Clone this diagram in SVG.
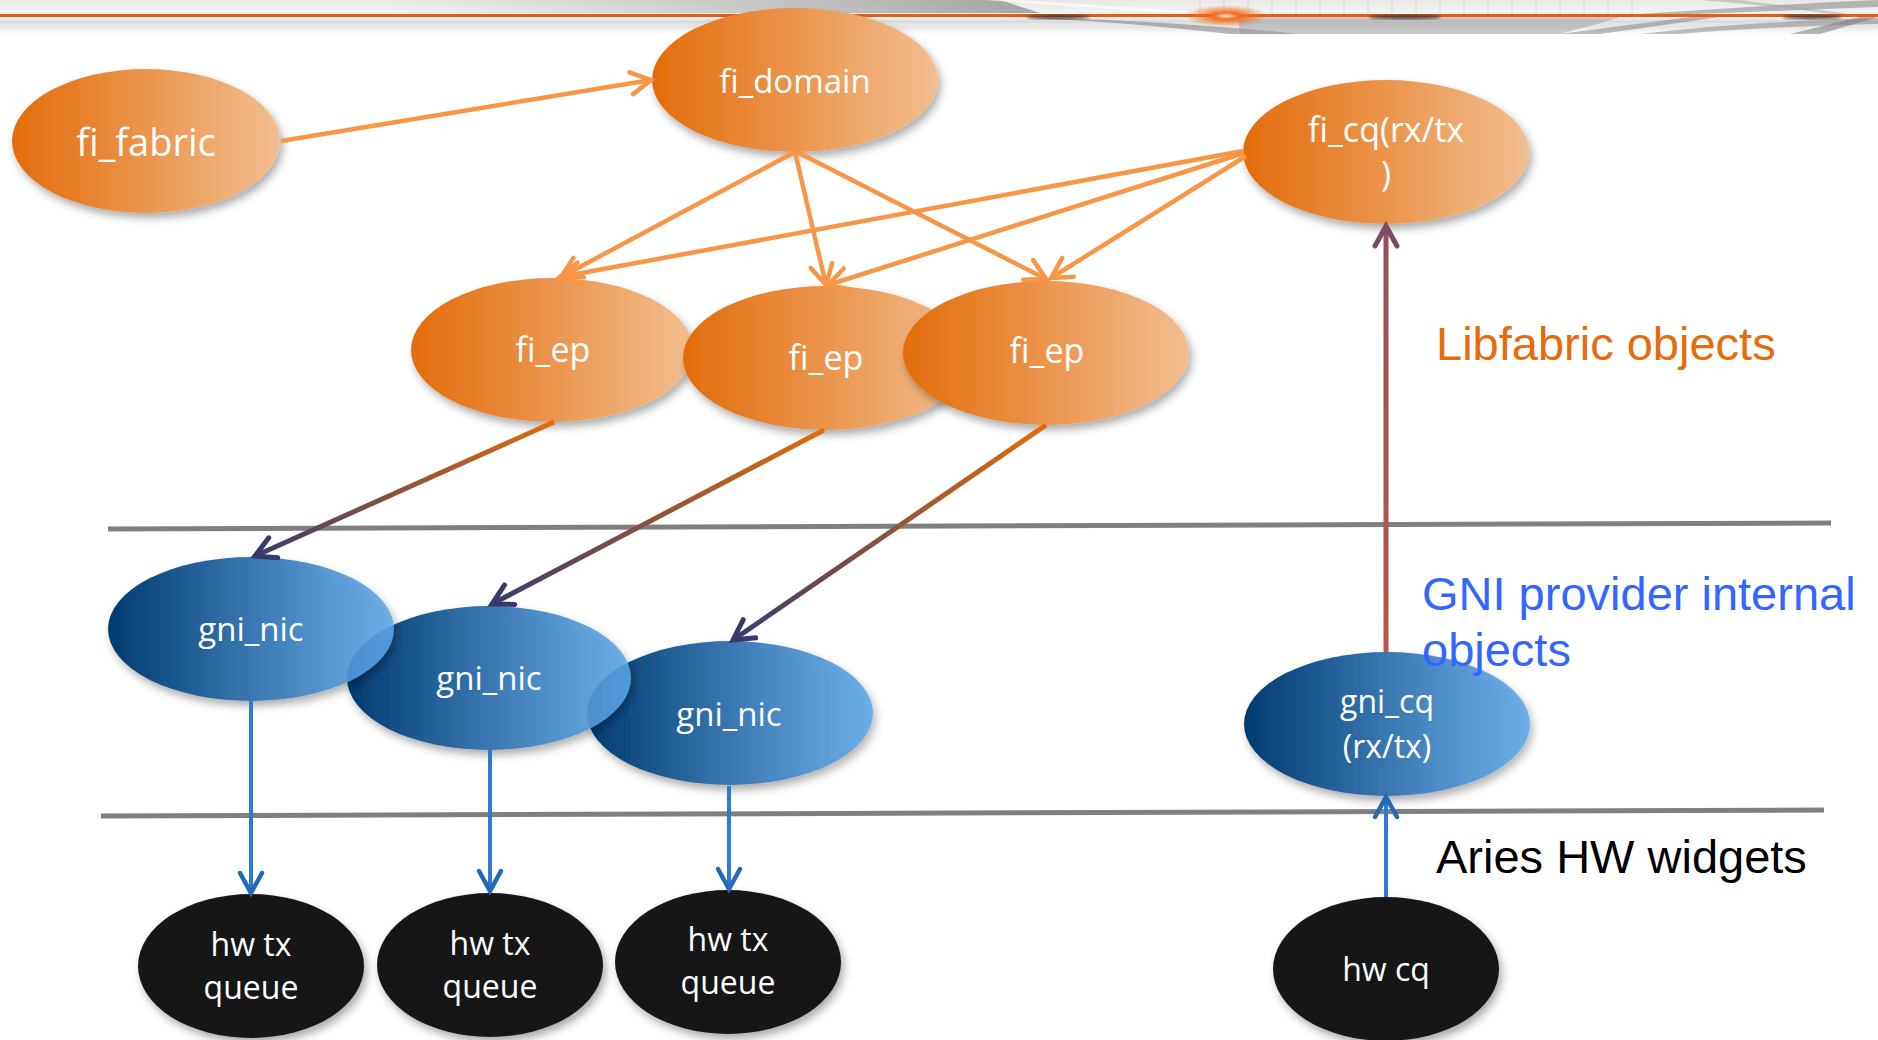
<svg xmlns="http://www.w3.org/2000/svg" width="1878" height="1040" viewBox="0 0 1878 1040">
<style>
.lbl{font-family:"Open Sans","Liberation Sans",sans-serif;fill:#ffffff;text-anchor:middle}
.side{font-family:"Liberation Sans",Arial,sans-serif;font-size:47px}
.or{fill:none;stroke:#F79646;stroke-width:4.5}
.bl{fill:none;stroke:#2B7BCE;stroke-width:4}
.sep{stroke:#7f7f7f;stroke-width:5}
.ov{fill:url(#gOr);filter:url(#sh)}
.bv{fill:url(#gBl);filter:url(#sh)}
.kv{fill:#161616;filter:url(#sh)}
</style>
<defs>
<linearGradient id="gOr" x1="0" y1="0" x2="1" y2="0">
<stop offset="0" stop-color="#E36C0A"/><stop offset="1" stop-color="#F2BE90"/>
</linearGradient>
<linearGradient id="gBl" x1="0" y1="0" x2="1" y2="0">
<stop offset="0" stop-color="#003A6E"/><stop offset="0.5" stop-color="#3A77B2"/><stop offset="1" stop-color="#5CA8EB" stop-opacity="0.85"/>
</linearGradient>
<linearGradient id="hdrV" x1="0" y1="0" x2="0" y2="1">
<stop offset="0" stop-color="#e8e8e8"/><stop offset="0.38" stop-color="#f3f3f3"/><stop offset="0.5" stop-color="#ffffff"/><stop offset="0.6" stop-color="#e0e0e0"/><stop offset="0.85" stop-color="#ececec"/><stop offset="1" stop-color="#ffffff"/>
</linearGradient>
<linearGradient id="swA" x1="0" y1="0" x2="1" y2="0">
<stop offset="0" stop-color="#a8a8a8" stop-opacity="0"/><stop offset="1" stop-color="#909090" stop-opacity="0.8"/>
</linearGradient>
<radialGradient id="glow" cx="0.5" cy="0.5" r="0.5">
<stop offset="0" stop-color="#FFE6CC"/><stop offset="0.3" stop-color="#F26B1D"/><stop offset="1" stop-color="#F26B1D" stop-opacity="0"/>
</radialGradient>
<linearGradient id="gE1" gradientUnits="userSpaceOnUse" x1="554" y1="422" x2="255" y2="556">
<stop offset="0" stop-color="#E36C0A"/><stop offset="1" stop-color="#3A3B6E"/>
</linearGradient>
<linearGradient id="gE2" gradientUnits="userSpaceOnUse" x1="824" y1="430" x2="492" y2="604">
<stop offset="0" stop-color="#E36C0A"/><stop offset="1" stop-color="#3A3B6E"/>
</linearGradient>
<linearGradient id="gE3" gradientUnits="userSpaceOnUse" x1="1046" y1="425" x2="733" y2="640">
<stop offset="0" stop-color="#E36C0A"/><stop offset="1" stop-color="#3A3B6E"/>
</linearGradient>
<linearGradient id="gCq" gradientUnits="userSpaceOnUse" x1="1386" y1="652" x2="1386" y2="226">
<stop offset="0" stop-color="#B9554C"/><stop offset="1" stop-color="#94505C"/>
</linearGradient>
<filter id="sh" x="-20%" y="-20%" width="150%" height="160%">
<feDropShadow dx="3" dy="5" stdDeviation="4" flood-color="#000000" flood-opacity="0.33"/>
</filter>
<filter id="blur2"><feGaussianBlur stdDeviation="1.5"/></filter>
<marker id="aOr" markerUnits="userSpaceOnUse" markerWidth="40" markerHeight="40" viewBox="-30 -20 40 40" refX="0" refY="0" orient="auto" overflow="visible">
<path d="M-20,-11 L0,0 L-20,11" fill="none" stroke="#F79646" stroke-width="4.5" stroke-linecap="round"/>
</marker>
<marker id="aNv" markerUnits="userSpaceOnUse" markerWidth="40" markerHeight="40" viewBox="-30 -20 40 40" refX="0" refY="0" orient="auto" overflow="visible">
<path d="M-20,-11 L0,0 L-20,11" fill="none" stroke="#38396B" stroke-width="5" stroke-linecap="round"/>
</marker>
<marker id="aPu" markerUnits="userSpaceOnUse" markerWidth="40" markerHeight="40" viewBox="-30 -20 40 40" refX="0" refY="0" orient="auto" overflow="visible">
<path d="M-20,-11 L0,0 L-20,11" fill="none" stroke="#7A4A66" stroke-width="5" stroke-linecap="round"/>
</marker>
<marker id="aBl" markerUnits="userSpaceOnUse" markerWidth="40" markerHeight="40" viewBox="-30 -20 40 40" refX="0" refY="0" orient="auto" overflow="visible">
<path d="M-20,-11 L0,0 L-20,11" fill="none" stroke="#2468B8" stroke-width="4.5" stroke-linecap="round"/>
</marker>
</defs>

<rect width="1878" height="1040" fill="#ffffff"/>

<g id="header">
<rect x="0" y="0" width="1878" height="34" fill="url(#hdrV)"/>
<rect x="0" y="21" width="1878" height="2" fill="#dcdcdc"/>
<rect x="0" y="26" width="1878" height="1.5" fill="#e4e4e4"/>
<path d="M380,0 H1000 L1040,13 H380 Z" fill="url(#swA)"/>
<path d="M985,0 H1015 L1235,14 H1185 Z" fill="#ffffff" opacity="0.7"/>
<g stroke="#d4d4d4" stroke-width="1">
<line x1="1200" y1="0" x2="1200" y2="13"/><line x1="1224" y1="0" x2="1224" y2="13"/><line x1="1248" y1="0" x2="1248" y2="13"/><line x1="1272" y1="0" x2="1272" y2="13"/><line x1="1296" y1="0" x2="1296" y2="13"/><line x1="1320" y1="0" x2="1320" y2="13"/><line x1="1344" y1="0" x2="1344" y2="13"/><line x1="1368" y1="0" x2="1368" y2="13"/><line x1="1392" y1="0" x2="1392" y2="13"/><line x1="1416" y1="0" x2="1416" y2="13"/><line x1="1440" y1="0" x2="1440" y2="13"/><line x1="1464" y1="0" x2="1464" y2="13"/><line x1="1488" y1="0" x2="1488" y2="13"/><line x1="1512" y1="0" x2="1512" y2="13"/><line x1="1536" y1="0" x2="1536" y2="13"/><line x1="1560" y1="0" x2="1560" y2="13"/><line x1="1584" y1="0" x2="1584" y2="13"/><line x1="1608" y1="0" x2="1608" y2="13"/><line x1="1632" y1="0" x2="1632" y2="13"/>
</g>
<path d="M1640,14 C1720,9 1800,3 1878,0 L1878,7 C1800,10 1730,13 1690,14 Z" fill="#8c8c8c" opacity="0.6"/>
<path d="M1700,0 C1750,4 1790,8 1830,14 L1850,14 C1800,7 1760,3 1740,0 Z" fill="#a5a5a5" opacity="0.55"/>
<path d="M1000,17 C1080,19 1150,25 1230,34 L1300,34 C1200,24 1100,18 1000,17 Z" fill="#7e7e7e" opacity="0.55"/>
<path d="M1238,17 H1620 C1600,24 1580,28 1560,34 H1240 Z" fill="#9a9a9a" opacity="0.5"/>
<path d="M1560,34 L1690,17 H1720 L1600,34 Z" fill="#7a7a7a" opacity="0.5"/>
<path d="M1640,34 C1720,25 1800,20 1878,18 L1878,24 C1800,26 1720,30 1680,34 Z" fill="#8a8a8a" opacity="0.55"/>
<path d="M1790,34 L1860,17 H1878 L1820,34 Z" fill="#7a7a7a" opacity="0.55"/>
<line x1="0" y1="15.5" x2="1878" y2="15.5" stroke="#EA5B0C" stroke-width="3"/>
<g fill="#2a2a2a" opacity="0.75" filter="url(#blur2)">
<ellipse cx="1058" cy="17" rx="32" ry="2.5"/>
<ellipse cx="1405" cy="17" rx="36" ry="2.5"/>
<ellipse cx="1812" cy="17" rx="30" ry="2.5"/>
</g>
<ellipse cx="1226" cy="16" rx="42" ry="11" fill="url(#glow)"/>
</g>

<g id="separators">
<line class="sep" x1="108" y1="529" x2="1831" y2="523"/>
<line class="sep" x1="101" y1="816" x2="1824" y2="810"/>
</g>

<g id="n-fi_fabric">
<ellipse class="ov" cx="146" cy="141" rx="134" ry="72"/>
<text class="lbl" x="146" y="156" font-size="38">fi_fabric</text>
</g>
<g id="n-fi_domain">
<ellipse class="ov" cx="795" cy="80" rx="143" ry="72"/>
<text class="lbl" x="795" y="93" font-size="33">fi_domain</text>
</g>
<g id="n-fi_cq">
<ellipse class="ov" cx="1386" cy="152" rx="143" ry="72"/>
<text class="lbl" x="1386" y="142" font-size="34">fi_cq(rx/tx</text>
<text class="lbl" x="1386" y="186" font-size="34">)</text>
</g>
<g id="n-fi_ep1">
<ellipse class="ov" cx="552" cy="350" rx="141" ry="72"/>
<text class="lbl" x="553" y="362" font-size="34">fi_ep</text>
</g>
<g id="n-fi_ep2">
<ellipse class="ov" cx="826" cy="358" rx="143" ry="72"/>
<text class="lbl" x="826" y="370" font-size="34">fi_ep</text>
</g>
<g id="n-fi_ep3">
<ellipse class="ov" cx="1046" cy="353" rx="143" ry="72"/>
<text class="lbl" x="1047" y="363" font-size="34">fi_ep</text>
</g>
<g id="n-gni_nic3">
<ellipse class="bv" cx="730" cy="713" rx="143" ry="72"/>
<text class="lbl" x="729" y="726" font-size="33">gni_nic</text>
</g>
<g id="n-gni_nic2">
<ellipse class="bv" cx="489" cy="678" rx="142" ry="72"/>
<text class="lbl" x="489" y="690" font-size="33">gni_nic</text>
</g>
<g id="n-gni_nic1">
<ellipse class="bv" cx="251" cy="629" rx="143" ry="72"/>
<text class="lbl" x="251" y="641" font-size="33">gni_nic</text>
</g>
<g id="n-gni_cq">
<ellipse class="bv" cx="1387" cy="724" rx="143" ry="72"/>
<text class="lbl" x="1387" y="713" font-size="32">gni_cq</text>
<text class="lbl" x="1387" y="758" font-size="32">(rx/tx)</text>
</g>
<g id="n-hw_tx1">
<ellipse class="kv" cx="251" cy="966" rx="113" ry="72"/>
<text class="lbl" x="251" y="956" font-size="32">hw tx</text>
<text class="lbl" x="251" y="999" font-size="32">queue</text>
</g>
<g id="n-hw_tx2">
<ellipse class="kv" cx="490" cy="965" rx="113" ry="72"/>
<text class="lbl" x="490" y="955" font-size="32">hw tx</text>
<text class="lbl" x="490" y="998" font-size="32">queue</text>
</g>
<g id="n-hw_tx3">
<ellipse class="kv" cx="728" cy="962" rx="113" ry="72"/>
<text class="lbl" x="728" y="951" font-size="32">hw tx</text>
<text class="lbl" x="728" y="994" font-size="32">queue</text>
</g>
<g id="n-hw_cq">
<ellipse class="kv" cx="1386" cy="969" rx="113" ry="72"/>
<text class="lbl" x="1386" y="981" font-size="32">hw cq</text>
</g>

<g id="connectors">
<line class="or" x1="281" y1="141" x2="651" y2="80" marker-end="url(#aOr)"/>
<line class="or" x1="795" y1="152" x2="561" y2="277" marker-end="url(#aOr)"/>
<line class="or" x1="795" y1="152" x2="826" y2="285" marker-end="url(#aOr)"/>
<line class="or" x1="797" y1="152" x2="1046" y2="279" marker-end="url(#aOr)"/>
<line class="or" x1="1243" y1="151" x2="560" y2="277" marker-end="url(#aOr)"/>
<line class="or" x1="1244" y1="153" x2="828" y2="285" marker-end="url(#aOr)"/>
<line class="or" x1="1246" y1="156" x2="1051" y2="278" marker-end="url(#aOr)"/>
<line x1="554" y1="422" x2="255" y2="556" stroke="url(#gE1)" stroke-width="5" marker-end="url(#aNv)"/>
<line x1="824" y1="430" x2="492" y2="604" stroke="url(#gE2)" stroke-width="5" marker-end="url(#aNv)"/>
<line x1="1046" y1="425" x2="733" y2="640" stroke="url(#gE3)" stroke-width="5" marker-end="url(#aNv)"/>
<path d="M1386,652 V226" fill="none" stroke="url(#gCq)" stroke-width="5" marker-end="url(#aPu)"/>
<line class="bl" x1="251" y1="701" x2="251" y2="893" marker-end="url(#aBl)"/>
<line class="bl" x1="490" y1="750" x2="490" y2="891" marker-end="url(#aBl)"/>
<line class="bl" x1="729" y1="786" x2="729" y2="889" marker-end="url(#aBl)"/>
<line class="bl" x1="1386" y1="897" x2="1386" y2="797" marker-end="url(#aBl)"/>
</g>

<g id="labels">
<text class="side" x="1436" y="360" fill="#E46C0A">Libfabric objects</text>
<text class="side" x="1422" y="610" fill="#3366FF">GNI provider internal</text>
<text class="side" x="1422" y="666" fill="#3366FF">objects</text>
<text class="side" x="1436" y="873" fill="#000000">Aries HW widgets</text>
</g>
</svg>
